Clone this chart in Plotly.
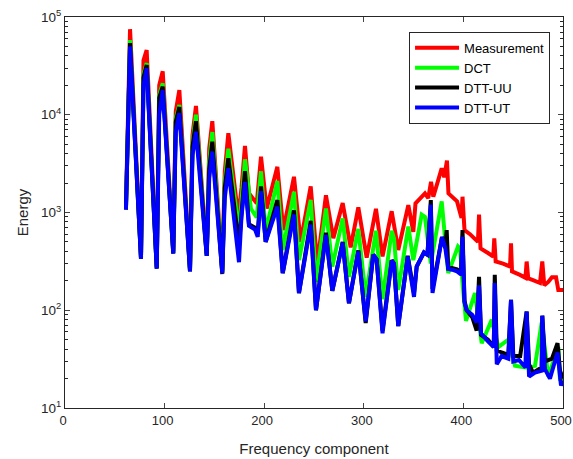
import plotly.graph_objects as go

# ---------------- data ----------------
x_meas = [61.2, 65.3, 76.3, 78.8, 82.0, 92.1, 94.6, 98.1, 108.7, 111.2, 114.8, 125.5, 128.0, 131.5,
          142.3, 144.8, 147.9, 157.9, 160.4, 164.0, 174.0, 177.2, 180.7, 184.7, 192.5, 196.8, 202.5,
          213.2, 219.2, 229.9, 236.6, 246.7, 253.3, 262.0, 269.4, 278.8, 286.8, 294.5, 302.9, 312.2,
          318.8, 328.0, 334.6, 344.7, 349.7, 351.9, 361.4, 364.7, 367.5, 369.8, 378.2, 380.8, 383.5,
          385.0, 393.6, 398.1, 399.1, 401.1, 406.6, 414.6, 415.7, 417.2, 424.7, 430.0, 431.0, 432.4,
          439.8, 446.8, 447.8, 448.8, 456.8, 462.3, 463.5, 465.1, 469.9, 476.9, 479.2, 481.2, 485.2,
          488.9, 493.0, 495.3, 500.0]
y_meas = [1200, 75000, 350, 36000, 45900, 280, 20000, 27800, 400, 10800, 17900, 265, 6200, 12300,
          380, 4530, 8600, 255, 2600, 6470, 900, 1780, 4800, 1570, 1240, 3720, 1100,
          2930, 660, 2320, 500, 1850, 300, 1500, 545, 1250, 440, 1130, 345, 1090,
          355, 1030, 413, 1190, 635, 1240, 1570, 1400, 2060, 1450, 2830, 2300, 3400,
          1570, 1300, 880, 1450, 660, 600, 500, 950, 430, 385, 355, 545, 315,
          300, 280, 485, 250, 230, 215, 315, 212, 203, 190, 315, 180, 195,
          218, 218, 161, 161]

x_dct = [61.2, 65.3, 76.3, 78.8, 82.0, 92.1, 94.6, 98.1, 108.7, 111.2, 114.8, 125.5, 128.0, 131.5,
         142.3, 144.8, 147.9, 157.9, 160.4, 164.0, 174.7, 177.2, 180.7, 186.7, 192.5, 196.8, 201.5,
         213.2, 218.6, 229.9, 234.9, 246.7, 252.0, 262.0, 268.4, 278.8, 285.1, 294.5, 301.9, 312.2,
         318.8, 328.0, 330.3, 334.6, 344.7, 349.7, 358.1, 361.4, 367.3, 378.2, 384.8, 394.6, 396.6,
         399.1, 402.6, 411.6, 418.4, 428.4, 435.0, 445.1, 451.8, 462.3, 471.9, 478.6, 485.2, 495.3,
         497.0, 500.0]
y_dct = [1100, 58000, 340, 26000, 33800, 270, 15900, 21000, 385, 9200, 12600, 255, 5100, 10000,
         365, 3300, 6650, 245, 2060, 4500, 635, 1350, 3500, 1090, 890, 2640, 640,
         2100, 413, 1630, 325, 1350, 195, 1100, 280, 870, 220, 680, 137, 650,
         130, 650, 545, 161, 720, 325, 950, 900, 300, 1300, 240, 450, 430,
         190, 78, 150, 46, 80, 42, 50, 27, 26, 27, 75, 21, 42,
         19, 20]

x_uu = [61.2, 65.3, 76.3, 78.8, 82.0, 92.1, 94.6, 98.1, 108.7, 111.2, 114.8, 125.5, 128.0, 131.5,
        142.3, 144.8, 147.9, 157.9, 160.4, 164.0, 174.7, 177.2, 180.7, 184.7, 190.8, 193.5, 196.8,
        201.5, 213.2, 218.6, 229.9, 234.9, 246.7, 252.0, 262.0, 268.4, 278.8, 285.1, 294.5, 301.9,
        309.5, 312.9, 318.8, 328.0, 330.3, 334.6, 344.1, 350.4, 353.1, 360.4, 363.9, 367.3, 369.0,
        378.5, 381.8, 383.2, 384.8, 388.5, 393.6, 397.6, 399.1, 401.1, 403.3, 408.9, 413.3, 415.7,
        417.7, 424.7, 430.5, 431.5, 433.5, 438.4, 445.1, 447.8, 450.1, 457.0, 463.5, 465.9, 469.9,
        478.6, 479.2, 481.9, 488.9, 494.5, 497.0, 500.0]
y_uu = [1070, 54000, 335, 24000, 32300, 266, 14900, 19400, 380, 8500, 12000, 250, 4700, 8600,
        360, 2800, 5300, 235, 1780, 3580, 465, 1100, 2650, 760, 700, 620, 1850,
        500, 1340, 240, 1050, 150, 820, 100, 620, 158, 500, 118, 410, 74,
        370, 330, 62, 325, 300, 69, 360, 150, 280, 390, 370, 1340, 165,
        560, 435, 660, 268, 270, 262, 245, 660, 125, 100, 85, 62, 220,
        56, 50, 42, 230, 39, 37, 35, 128, 34, 34, 97, 28, 23,
        26, 88, 30, 32, 46, 24, 20]

x_ut = [61.2, 65.3, 76.3, 78.8, 82.0, 92.1, 94.6, 98.1, 108.7, 111.2, 114.8, 125.5, 128.0, 131.5,
        142.3, 144.8, 147.9, 157.9, 160.4, 164.0, 174.7, 177.2, 180.7, 184.7, 190.8, 193.5, 196.8,
        201.5, 213.2, 218.6, 229.9, 234.9, 246.7, 252.0, 262.0, 268.4, 278.8, 285.1, 294.5, 301.9,
        309.5, 312.9, 318.8, 328.0, 330.3, 334.6, 344.1, 350.4, 353.1, 360.4, 363.9, 367.3, 369.0,
        378.5, 381.8, 384.8, 388.5, 393.6, 397.6, 399.1, 401.1, 403.3, 408.9, 413.3, 415.7, 417.7,
        424.7, 430.5, 431.5, 433.5, 438.4, 445.1, 447.8, 450.1, 455.8, 462.3, 463.5, 465.9, 471.9,
        478.6, 479.2, 481.9, 486.9, 494.5, 498.0, 500.0]
y_ut = [1070, 50000, 335, 20000, 30000, 266, 10000, 17900, 380, 6700, 10400, 250, 3850, 6700,
        360, 2240, 4200, 240, 1400, 2840, 310, 910, 2050, 730, 670, 565, 1650,
        500, 1150, 240, 950, 150, 750, 100, 590, 158, 490, 118, 400, 77,
        370, 330, 58, 320, 300, 69, 355, 137, 280, 390, 370, 1200, 150,
        560, 435, 265, 260, 250, 232, 565, 120, 100, 90, 75, 180, 58,
        48, 42, 190, 28, 34, 32, 128, 30, 31, 26, 97, 21, 23,
        24, 88, 25, 20, 37, 17, 19]

series = [
    ("Measurement", x_meas, y_meas, "rgb(255,0,0)"),
    ("DCT", x_dct, y_dct, "rgb(0,255,0)"),
    ("DTT-UU", x_uu, y_uu, "rgb(0,0,0)"),
    ("DTT-UT", x_ut, y_ut, "rgb(0,0,255)"),
]

x_ticks = [0, 100, 200, 300, 400, 500]
y_ticks = [10, 100, 1000, 10000, 100000]
y_ticktext = ["10<sup>1</sup>", "10<sup>2</sup>", "10<sup>3</sup>", "10<sup>4</sup>", "10<sup>5</sup>"]

# ---------------- figure ----------------
fig = go.Figure()
for name, xs, ys, col in series:
    fig.add_trace(go.Scatter(x=xs, y=ys, mode="lines", name=name,
                             line=dict(color=col, width=4)))

minor_vals = [m * 10 ** e for e in range(1, 5) for m in range(2, 10)]
axis_col = "#262626"
font_family = "Liberation Sans, Arial, sans-serif"

fig.update_layout(
    width=573, height=459,
    margin=dict(l=65, r=10, t=17, b=51),
    paper_bgcolor="white", plot_bgcolor="white",
    font=dict(family=font_family, size=14, color=axis_col),
    showlegend=True,
    legend=dict(x=0.974, y=0.962, xanchor="right", yanchor="top",
                bgcolor="white", bordercolor=axis_col, borderwidth=1,
                font=dict(size=13, color="black"), tracegroupgap=0,
                itemwidth=44),
)
fig.update_xaxes(
    range=[0, 500], tickvals=x_ticks, ticks="inside", ticklen=5,
    showline=True, linecolor=axis_col, linewidth=1, mirror="ticks",
    showgrid=False, zeroline=False, tickfont=dict(size=13, color=axis_col),
    automargin=False, ticklabeloverflow="allow", ticklabelshift=-2,
    title=dict(text="Frequency component", font=dict(size=15, color=axis_col), standoff=16),
)
fig.update_yaxes(
    type="log", range=[1, 5], tickvals=y_ticks, ticktext=y_ticktext,
    ticks="inside", ticklen=5,
    showline=True, linecolor=axis_col, linewidth=1, mirror="ticks",
    showgrid=False, zeroline=False, tickfont=dict(size=13.5, color=axis_col),
    automargin=False, ticklabeloverflow="allow",
    minor=dict(tickmode="array", tickvals=minor_vals, ticks="inside", ticklen=3,
               tickcolor=axis_col, showgrid=False),
    title=dict(text="Energy", font=dict(size=15, color=axis_col), standoff=8),
)

# remove the browser's default page margin so the 573x459 figure fills the window
fig.write_html("out.html",
               config={"displayModeBar": False},
               post_script="document.body.style.margin='0';document.body.style.overflow='hidden';")
